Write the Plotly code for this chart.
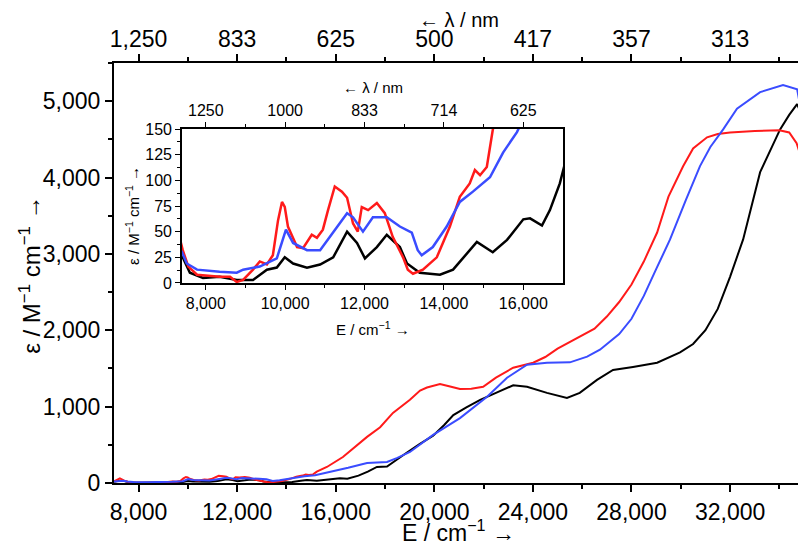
import plotly.graph_objects as go

# wavenumber (cm-1) / molar absorptivity (M-1 cm-1)
black_E = [7000, 7200, 7420, 7600, 7930, 8350, 8780, 9190, 9540, 9790, 9990, 10200,
           10550, 10880, 11210, 11560, 11810, 12010, 12310, 12560, 12890, 13070, 13390,
           13900, 14230, 14580, 14830, 15230, 15590, 16000, 16170, 16470, 16670, 16920,
           17300, 17670, 18080, 18400, 18890, 19400, 19950, 20400, 20770, 21300, 21860,
           22500, 23200, 23760, 24570, 25380, 25900, 26600, 27250, 28060, 29040, 29970,
           30500, 31000, 31500, 32000, 32530, 33220, 34030, 34400, 34720, 35000]
black_eps = [15, 30, 25, 10, 5, 6, 3, 3, 13, 15, 25, 19,
             15, 18, 25, 50, 39, 24, 35, 47, 35, 19, 10,
             8, 13, 29, 40, 30, 42, 62, 63, 56, 71, 97,
             150, 210, 215, 290, 400, 510, 620, 760, 890, 990, 1090,
             1180, 1280, 1260, 1180, 1115, 1180, 1350, 1480, 1520, 1575, 1710,
             1820, 2000, 2280, 2700, 3190, 4070, 4630, 4820, 4960, 4750]

red_E = [7000, 7240, 7420, 7560, 7780, 8350, 8610, 8780, 8940, 9190, 9360, 9540, 9690,
         9820, 9920, 9990, 10070, 10300, 10450, 10670, 10800, 10950, 11080, 11250, 11430,
         11560, 11710, 11830, 11930, 12090, 12310, 12510, 12710, 12970, 13090, 13220,
         13470, 13820, 14150, 14400, 14650, 14780, 14910, 15080, 15230, 15640, 16290,
         16800, 17270, 17800, 18320, 19010, 19420, 19700, 20230, 20640, 21040, 21500,
         21980, 22500, 23200, 24010, 24500, 25000, 25500, 26000, 26500, 27000, 27500,
         28000, 28500, 29040, 29500, 30094, 30500, 31066, 31500, 32000, 33000, 34000,
         34400, 34700, 35000]
red_eps = [20, 60, 32, 16, 8, 6, 6, 1, 3, 13, 21, 18, 27,
           61, 79, 74, 55, 35, 34, 47, 44, 52, 71, 94, 89,
           83, 58, 50, 74, 71, 78, 68, 45, 25, 13, 9,
           13, 25, 55, 84, 97, 110, 105, 113, 149, 210, 341,
           480, 604, 730, 918, 1089, 1210, 1250, 1295, 1265, 1232, 1235,
           1260, 1380, 1510, 1575, 1650, 1760, 1850, 1930, 2020, 2180, 2370,
           2600, 2900, 3280, 3750, 4147, 4380, 4527, 4570, 4590, 4610, 4620,
           4590, 4450, 4150]

blue_E = [7000, 7400, 7520, 7780, 8350, 8780, 8940, 9360, 9790, 9920, 10020, 10200,
          10550, 10880, 11210, 11560, 11710, 11960, 12210, 12560, 12890, 13190, 13340,
          13440, 13720, 14070, 14400, 14730, 15160, 15490, 15840, 16500, 17270, 18080,
          18500, 19010, 19950, 21040, 22140, 22950, 23760, 24570, 25500, 26200, 26720,
          27500, 28000, 28500, 29000, 29565, 30200, 30780, 31200, 31720, 32280, 33220,
          34150, 34720, 35000]
blue_eps = [20, 30, 19, 13, 11, 10, 13, 16, 24, 39, 52, 39,
            32, 32, 49, 68, 64, 50, 64, 64, 55, 49, 32,
            27, 35, 55, 79, 89, 103, 127, 147, 200, 262, 275,
            330, 407, 630, 850, 1129, 1378, 1549, 1575, 1580, 1654, 1745,
            1950, 2150, 2450, 2800, 3189, 3700, 4150, 4400, 4630, 4900, 5118,
            5210, 5157, 4670]

main_ticks = [8000, 12000, 16000, 20000, 24000, 28000, 32000]
main_nm = ['1,250', '833', '625', '500', '417', '357', '313']
inset_ticks = [8000, 10000, 12000, 14000, 16000]
inset_nm = ['1250', '1000', '833', '714', '625']

series = [(black_E, black_eps, '#000000'),
          (red_E, red_eps, '#ff1a1a'),
          (blue_E, blue_eps, '#3a4cff')]

fig = go.Figure()
for E, eps, col in series:
    fig.add_trace(go.Scatter(x=E, y=eps, mode='lines', line=dict(color=col, width=2),
                             xaxis='x', yaxis='y', showlegend=False))
for E, eps, col in series:
    fig.add_trace(go.Scatter(x=E, y=eps, mode='lines', line=dict(color=col, width=2.5),
                             xaxis='x3', yaxis='y3', showlegend=False))
# invisible copies so the wavelength (top) axes get drawn
fig.add_trace(go.Scatter(x=black_E, y=black_eps, mode='lines', opacity=0,
                         xaxis='x2', yaxis='y', showlegend=False, hoverinfo='skip'))
fig.add_trace(go.Scatter(x=black_E, y=black_eps, mode='lines', opacity=0,
                         xaxis='x4', yaxis='y3', showlegend=False, hoverinfo='skip'))

sans = 'Liberation Sans, Arial, DejaVu Sans'
big = dict(family=sans, size=23, color='black')
small = dict(family=sans, size=16, color='black')

ax = dict(showline=True, linecolor='black', ticks='outside', tickcolor='black',
          showgrid=False, zeroline=False, automargin=False)
main_minor = dict(tickvals=[10000, 14000, 18000, 22000, 26000, 30000, 34000],
                  ticks='outside', ticklen=4, tickcolor='black')
inset_minor = dict(tickvals=[9000, 11000, 13000, 15000], ticks='outside',
                   ticklen=3, tickcolor='black')

# page body adds an 8px offset, so the figure is 8px smaller than the window
fig.update_layout(
    width=798, height=539,
    margin=dict(l=0, r=0, t=0, b=0),
    paper_bgcolor='white', plot_bgcolor='white',
    xaxis=dict(ax, domain=[0.1328, 0.9975], anchor='y', range=[7000, 35000],
               tickvals=main_ticks, tickformat=',', linewidth=2, tickwidth=1.5,
               ticklen=7, tickfont=big, minor=main_minor),
    xaxis2=dict(ax, overlaying='x', side='top', anchor='y', range=[7000, 35000],
                tickvals=main_ticks, ticktext=main_nm, linewidth=2, tickwidth=1.5,
                ticklen=7, tickfont=big, minor=main_minor, ticklabelstandoff=-2),
    yaxis=dict(ax, domain=[0.1187, 0.898], anchor='x', range=[0, 5500], dtick=1000,
               tickformat=',', linewidth=2, tickwidth=1.5, ticklen=7, tickfont=big,
               mirror=True,
               minor=dict(dtick=500, ticks='outside', ticklen=4, tickcolor='black')),
    xaxis3=dict(ax, domain=[0.2180, 0.6955], anchor='y3', range=[7400, 17000],
                tickvals=inset_ticks, tickformat=',', linewidth=1.5, ticklen=5,
                tickfont=small, minor=inset_minor),
    xaxis4=dict(ax, overlaying='x3', side='top', anchor='y3', range=[7400, 17000],
                tickvals=inset_ticks, ticktext=inset_nm, linewidth=1.5, ticklen=5,
                tickfont=small, minor=inset_minor),
    yaxis3=dict(ax, domain=[0.4898, 0.7755], anchor='x3', range=[0, 150], dtick=25,
                linewidth=1.5, ticklen=5, tickfont=small, mirror=True,
                minor=dict(dtick=12.5, ticks='outside', ticklen=3, tickcolor='black')),
)

title_font = dict(family=sans, size=23, color='black')
inset_title = dict(family=sans, size=15, color='black')
fig.add_annotation(text='E / cm<sup>\u22121</sup> \u2192', xref='paper', yref='paper',
                   x=0.5651, y=0.0, xanchor='center', yanchor='bottom', borderpad=0,
                   showarrow=False, font=title_font)
fig.add_annotation(text='\u2190 \u03bb / nm', xref='paper', yref='paper',
                   x=0.5651, y=1.0, xanchor='center', yanchor='top', borderpad=0,
                   showarrow=False, font=dict(family=sans, size=20, color='black'))
fig.add_annotation(text='\u03b5 / M<sup>\u22121</sup> cm<sup>\u22121</sup> \u2192',
                   xref='paper', yref='paper', x=0.0276, y=0.505, textangle=-90,
                   xanchor='center', yanchor='middle', showarrow=False,
                   font=dict(family=sans, size=24, color='black'))
fig.add_annotation(text='E / cm<sup>\u22121</sup> \u2192', xref='paper', yref='paper',
                   x=0.4568, y=0.406, xanchor='center', yanchor='middle',
                   showarrow=False, font=inset_title)
fig.add_annotation(text='\u2190 \u03bb / nm', xref='paper', yref='paper',
                   x=0.4568, y=0.852, xanchor='center', yanchor='middle',
                   showarrow=False, font=inset_title)
fig.add_annotation(text='\u03b5 / M<sup>\u22121</sup> cm<sup>\u22121</sup> \u2192',
                   xref='paper', yref='paper', x=0.1566, y=0.616, textangle=-90,
                   xanchor='center', yanchor='middle', showarrow=False, font=inset_title)

fig.write_html('out.html')
